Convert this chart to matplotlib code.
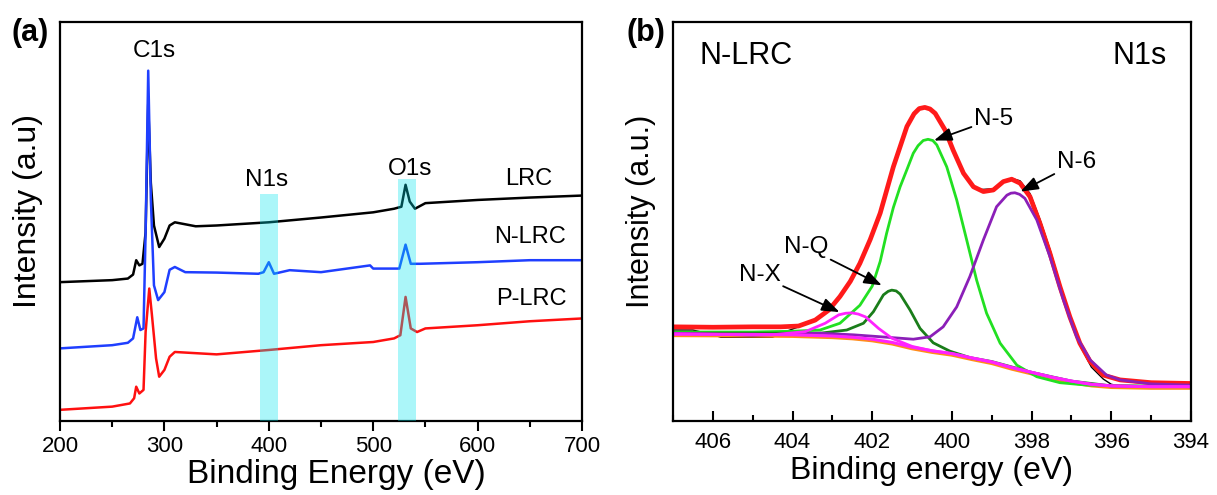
import numpy as np
import matplotlib.pyplot as plt
from matplotlib.ticker import MultipleLocator

plt.rcParams['font.family'] = ['Liberation Sans', 'DejaVu Sans']

# ---- panel (a): survey spectra (arbitrary offset units) ----
lrc_x = [200, 250, 265, 270, 273, 276, 279, 282, 284.5, 287, 290, 295, 300, 305, 310, 320, 330, 350,
         400, 450, 500, 520, 527, 531, 535, 540, 550, 600, 650, 700]
lrc_y = [34.8, 35.3, 35.7, 36.7, 40.3, 39.0, 39.4, 47.3, 79.4, 59.7, 49.0, 43.6, 45.7, 49.0, 49.8, 49.3,
         48.8, 49.0, 49.8, 51.0, 52.3, 53.2, 53.7, 59.2, 55.0, 53.2, 54.6, 55.4, 56.0, 56.5]

nlrc_x = [200, 250, 265, 270, 274, 277, 280, 282, 284.5, 287, 290, 294, 300, 305, 310, 320, 350, 390,
          395, 400, 405, 420, 450, 497, 500, 525, 531, 536, 545, 600, 650, 700]
nlrc_y = [18.2, 19.0, 19.6, 20.7, 26.0, 22.8, 23.2, 47.3, 87.8, 55.7, 34.0, 30.3, 32.3, 37.9, 38.6,
          37.3, 37.2, 36.9, 37.3, 39.8, 36.9, 37.8, 37.3, 39.0, 38.2, 38.2, 44.2, 39.4, 39.4, 39.8,
          40.3, 40.3]

plrc_x = [200, 250, 267, 271, 273, 276, 280, 282, 285.5, 288, 292, 295, 300, 305, 310, 350, 400, 450,
          500, 520, 526, 531, 536, 542, 550, 600, 650, 700]
plrc_y = [2.8, 3.6, 4.4, 5.7, 8.6, 6.9, 7.8, 22.3, 33.2, 26.7, 15.7, 11.1, 12.8, 16.1, 17.3, 16.7,
          17.8, 19.0, 19.8, 20.7, 21.5, 31.1, 23.2, 22.3, 23.2, 24.0, 25.0, 25.7]

bands = [(392, 409, 0.569), (524, 541, 0.607)]

# ---- panel (b): N1s fit of N-LRC ----
env_x = [407, 406, 405, 404.3, 403.85, 403.43, 403.09, 402.81, 402.55, 402.31, 402.05, 401.8, 401.47,
         401.13, 400.95, 400.82, 400.68, 400.55, 400.42, 400.17, 399.97, 399.71, 399.46, 399.21, 398.96,
         398.71, 398.5, 398.29, 398.04, 397.79, 397.54, 397.29, 397.04, 396.79, 396.53, 396.2, 395.78,
         395, 394]
env_y = [23.6, 23.5, 23.6, 23.6, 23.8, 25.3, 27.8, 31.2, 35.0, 39.5, 45.5, 52.1, 63.7,
         73.8, 77.0, 78.3, 78.6, 78.2, 77.1, 72.9, 67.9, 62.1, 58.7, 57.5, 57.9,
         60.0, 60.6, 59.6, 56.2, 49.5, 42.0, 33.7, 26.1, 19.5, 14.9, 11.5, 10.3,
         9.6, 9.4]

raw_x = [407, 406.5, 406, 405.8, 405, 404.5, 404.2, 403.85, 403.43, 403.09, 402.81, 402.55, 402.31,
         402.05, 401.8, 401.47, 401.13, 400.95, 400.82, 400.68, 400.55, 400.42, 400.17, 399.97, 399.71,
         399.46, 399.3, 398.96, 398.71, 398.5, 398.29, 398.04, 397.79, 397.54, 397.29, 397.04, 396.79,
         396.5, 396.2, 396.0, 395.8, 394]
raw_y = [22.8, 22.8, 21.6, 21.0, 21.0, 21.0, 22.3, 23.6, 25.3, 27.8, 31.2, 35.0, 39.5,
         45.5, 52.1, 63.7, 73.8, 77.0, 78.3, 78.6, 78.2, 77.1, 72.9, 67.9, 62.1,
         58.7, 58.0, 58.2, 60.2, 60.8, 60.2, 57.0, 50.5, 43.0, 34.5, 26.0, 19.0,
         13.5, 10.5, 9.2, 8.8, 8.8]

n5_x = [407, 405, 404, 403.31, 402.81, 402.31, 402.0, 401.8, 401.64, 401.47, 401.3, 401.13, 400.97,
        400.85, 400.72, 400.6, 400.48, 400.38, 400.13, 399.88, 399.63, 399.38, 399.13, 398.79, 398.37,
        397.87, 397.29, 396.62, 395, 394]
n5_y = [22.3, 22.3, 22.5, 22.8, 24.5, 29.0, 33.8, 40.0, 47.0, 53.5, 58.7, 63.0, 67.1,
        69.0, 70.3, 70.6, 70.3, 69.2, 63.7, 55.4, 45.4, 35.3, 27.0, 19.5, 14.0,
        11.1, 9.6, 9.0, 8.7, 8.6]

nq_x = [407, 404, 403.31, 402.64, 402.22, 401.97, 401.72, 401.6, 401.51, 401.4, 401.3, 401.05, 400.8,
        400.47, 400.05, 399.55, 399, 398, 397, 396, 394]
nq_y = [22.0, 22.0, 22.0, 22.8, 24.5, 27.4, 31.6, 32.5, 32.8, 32.6, 31.8, 27.8, 23.2,
        19.6, 17.5, 15.9, 14.9, 12.2, 10.0, 8.8, 8.6]

n6_x = [407, 405, 403.31, 402.47, 401.64, 400.97, 400.55, 400.22, 399.88, 399.55, 399.21, 398.88,
        398.62, 398.52, 398.42, 398.3, 398.17, 397.87, 397.54, 397.2, 396.87, 396.53, 396.12, 395.78,
        395, 394]
n6_y = [22.0, 21.5, 22.0, 21.6, 21.0, 20.5, 21.1, 23.6, 28.6, 36.2, 45.4, 53.7,
        56.6, 57.1, 57.2, 56.8, 55.8, 50.4, 41.2, 30.3, 21.1, 15.3, 11.5, 10.3,
        9.3, 9.0]

nx_x = [407, 404.52, 403.68, 403.18, 402.84, 402.67, 402.51, 402.35, 402.17, 401.84, 401.5, 401.0,
        400.5, 400, 399.5, 399, 398.5, 398, 397.5, 397, 396.5, 396, 395, 394]
nx_y = [21.8, 21.6, 22.4, 24.5, 26.6, 27.0, 27.1, 26.8, 26.1, 23.2, 20.7, 18.7,
        17.6, 16.9, 15.8, 14.8, 13.4, 12.2, 11.0, 10.0, 9.2, 8.8, 8.6, 8.6]

base_x = [407, 405, 404, 403, 402.5, 402, 401.5, 401, 400.5, 400, 399.5, 399, 398.5, 398, 397.5, 397,
          396.5, 396, 395, 394]
base_y = [21.8, 21.7, 21.6, 21.3, 21.0, 20.5, 19.7, 18.5, 17.6, 16.9, 15.8, 14.8, 13.4, 12.2, 11.0,
          10.0, 9.2, 8.8, 8.6, 8.6]

fig = plt.figure(figsize=(12.17, 4.95), dpi=100)
ax1 = fig.add_axes([60 / 1217, 1 - 421 / 495, 522 / 1217, 399 / 495])
ax2 = fig.add_axes([673 / 1217, 1 - 421 / 495, 518 / 1217, 399 / 495])

for ax in (ax1, ax2):
    for s in ax.spines.values():
        s.set_linewidth(1.6)
    ax.set_yticks([])
    ax.set_ylim(0, 100)

# (a)
ax1.plot(lrc_x, lrc_y, color='black', lw=1.8)
ax1.plot(nlrc_x, nlrc_y, color='#1f3fff', lw=1.8)
ax1.plot(plrc_x, plrc_y, color='#ff1010', lw=1.8)
for x0, x1, top in bands:
    ax1.axvspan(x0, x1, ymin=0, ymax=top, color='#00e5ee', alpha=0.33, lw=0, zorder=3)
ax1.set_xlim(200, 700)
ax1.xaxis.set_major_locator(MultipleLocator(100))
ax1.xaxis.set_minor_locator(MultipleLocator(50))
ax1.tick_params(axis='x', which='major', direction='out', length=7, width=1.5, labelsize=16, pad=4)
ax1.tick_params(axis='x', which='minor', direction='out', length=4, width=1.5)
ax1.set_xlabel('Binding Energy (eV)', fontsize=24, labelpad=1)
ax1.xaxis.label.set_x(0.529)
ax1.set_ylabel('Intensity (a.u)', fontsize=23, labelpad=12)
ax1.yaxis.label.set_y(0.526)
ax1.text(290, 92.8, 'C1s', fontsize=17.5, ha='center', va='center')
ax1.text(397.7, 60.3, 'N1s', fontsize=17.5, ha='center', va='center')
ax1.text(535.3, 63.2, 'O1s', fontsize=17.5, ha='center', va='center')
ax1.text(649, 60.7, 'LRC', fontsize=17, ha='center', va='center')
ax1.text(650, 46.0, 'N-LRC', fontsize=17, ha='center', va='center')
ax1.text(651.5, 30.7, 'P-LRC', fontsize=17, ha='center', va='center')

# (b)
ax2.plot(raw_x, raw_y, color='black', lw=1.0)
ax2.plot(env_x, env_y, color='#ff1a1a', lw=3.4)
ax2.plot(base_x, [v - 0.4 for v in base_y], color='#ff8c1a', lw=2.2)
ax2.plot(n5_x, n5_y, color='#22e022', lw=2.0)
ax2.plot(nq_x, nq_y, color='#1a7d1a', lw=2.0)
ax2.plot(n6_x, n6_y, color='#8b1fb8', lw=2.0)
ax2.plot(base_x, base_y, color='#ff22ff', lw=2.2)
ax2.plot(nx_x, nx_y, color='#ff22ff', lw=2.0)
ax2.set_xlim(407, 394)
ax2.xaxis.set_major_locator(MultipleLocator(2))
ax2.xaxis.set_minor_locator(MultipleLocator(1))
ax2.tick_params(axis='x', which='major', direction='in', length=7, width=1.5, labelsize=16, pad=8)
ax2.tick_params(axis='x', which='minor', direction='in', length=4, width=1.5)
ax2.set_xlabel('Binding energy (eV)', fontsize=23, labelpad=2)
ax2.set_ylabel('Intensity (a.u.)', fontsize=22, labelpad=12)
ax2.yaxis.label.set_y(0.526)
ax2.text(405.17, 91.5, 'N-LRC', fontsize=22, ha='center', va='center')
ax2.text(395.28, 91.5, 'N1s', fontsize=22, ha='center', va='center')

arrow = dict(arrowstyle='-|>,head_length=0.6,head_width=0.22', color='black', lw=1.3,
             mutation_scale=18, shrinkA=0, shrinkB=0)
ax2.annotate('N-5', xy=(400.45, 70.3), xytext=(398.95, 75.7), fontsize=17.5, ha='center', va='center',
             arrowprops=arrow)
ax2.annotate('N-6', xy=(398.28, 57.5), xytext=(396.87, 64.8), fontsize=17.5, ha='center', va='center',
             arrowprops=arrow)
ax2.annotate('N-Q', xy=(401.76, 34.0), xytext=(403.67, 43.6), fontsize=17.5, ha='center', va='center',
             arrowprops=arrow)
ax2.annotate('N-X', xy=(402.82, 27.3), xytext=(404.83, 36.5), fontsize=17.5, ha='center', va='center',
             arrowprops=arrow)

fig.text(30 / 1217, 1 - 33 / 495, '(a)', fontsize=22, fontweight='bold', ha='center', va='center')
fig.text(646 / 1217, 1 - 33 / 495, '(b)', fontsize=22, fontweight='bold', ha='center', va='center')

fig.savefig('out.png', dpi=100)
